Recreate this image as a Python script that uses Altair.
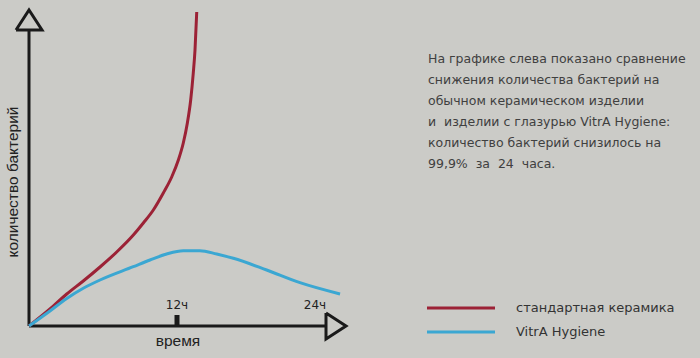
import altair as alt
import pandas as pd

# Data (x in hours, y in relative bacteria count units)
red_x = [0, 1.70, 3.06, 4.40, 5.76, 7.11, 8.46, 9.27, 10.08, 10.89, 11.57, 12.11, 12.51, 12.84, 13.11, 13.32, 13.46, 13.60]
red_y = [0, 17, 32, 45, 59, 74, 91, 103, 116, 133, 149, 166, 183, 203, 226, 253, 276, 314]
blue_x = [0, 1.70, 3.06, 4.40, 5.76, 8.46, 9.81, 11.16, 12.51, 13.86, 15.22, 16.57, 19.27, 21.97, 25.22]
blue_y = [0, 15, 27.5, 37.7, 46, 59.3, 66, 72, 75.3, 75.3, 72, 67.7, 56, 43.3, 32]
series_names = ["стандартная керамика", "VitrA Hygiene"]
colors = ["#9c2236", "#3ba7d2"]
tick_labels = ["12ч", "24ч"]
tick_hours = [12, 24]
paragraph = [
    "На графике слева показано сравнение",
    "снижения количества бактерий на",
    "обычном керамическом изделии",
    "и\u00a0 изделии с глазурью VitrA Hygiene:",
    "количество бактерий снизилось на",
    "99,9%\u00a0 за\u00a0 24\u00a0 часа.",
]

W, H = 700, 358
px_per_h = 148 / 12.0
x0_px, y0_px = 29, 326
xdom = [-x0_px / px_per_h, (W - x0_px) / px_per_h]
ydom = [y0_px - H, y0_px]

xs = alt.Scale(domain=xdom, nice=False, zero=False)
ys = alt.Scale(domain=ydom, nice=False, zero=False)

def hx(px):
    return (px - x0_px) / px_per_h

def vy(py):
    return y0_px - py

rows = []
for i, (x, y) in enumerate(zip(red_x, red_y)):
    rows.append({"s": series_names[0], "x": x, "y": y, "o": i})
for i, (x, y) in enumerate(zip(blue_x, blue_y)):
    rows.append({"s": series_names[1], "x": x, "y": y, "o": i})
df = pd.DataFrame(rows)

X = lambda f: alt.X(f, type="quantitative", scale=xs, axis=None)
Y = lambda f: alt.Y(f, type="quantitative", scale=ys, axis=None)

# axes lines
axes_df = pd.DataFrame([
    {"x": 0, "y": 0, "x2": 0, "y2": vy(30)},
    {"x": 0, "y": 0, "x2": hx(326), "y2": 0},
])
axes = alt.Chart(axes_df).mark_rule(color="#1a1a1a", strokeWidth=3).encode(
    x=X("x"), y=Y("y"), x2="x2", y2="y2")

# arrow heads
arrow_df = pd.DataFrame([
    {"a": "y", "o": 0, "x": hx(16), "y": vy(30)},
    {"a": "y", "o": 1, "x": 0, "y": vy(10)},
    {"a": "y", "o": 2, "x": hx(42), "y": vy(30)},
    {"a": "y", "o": 3, "x": hx(16), "y": vy(30)},
    {"a": "x", "o": 0, "x": hx(326), "y": vy(313)},
    {"a": "x", "o": 1, "x": hx(346), "y": 0},
    {"a": "x", "o": 2, "x": hx(326), "y": vy(339)},
    {"a": "x", "o": 3, "x": hx(326), "y": vy(313)},
])
arrows = alt.Chart(arrow_df).mark_line(color="#1a1a1a", strokeWidth=3, strokeJoin="miter").encode(
    x=X("x"), y=Y("y"), detail="a:N", order="o:Q")

curves = alt.Chart(df).mark_line(strokeWidth=3, interpolate="monotone").encode(
    x=X("x"), y=Y("y"), order="o:Q",
    color=alt.Color("s:N", scale=alt.Scale(domain=series_names, range=colors), legend=None))

tick_df = pd.DataFrame({"x": [12], "y": [0], "y2": [vy(315)]})
tick = alt.Chart(tick_df).mark_rule(color="#1a1a1a", strokeWidth=5).encode(
    x=X("x"), y=Y("y"), y2="y2")

tl_df = pd.DataFrame({"x": [12, hx(315)], "t": tick_labels})
tlabels = alt.Chart(tl_df).mark_text(fontSize=12, font="DejaVu Sans", color="#222",
                                     baseline="middle").encode(
    x=X("x"), y=alt.value(305), text="t:N")

xtitle = alt.Chart(pd.DataFrame({"t": ["время"]})).mark_text(
    fontSize=15.5, font="Liberation Sans", color="#222", baseline="middle").encode(
    x=alt.value(178), y=alt.value(341), text="t:N")
ytitle = alt.Chart(pd.DataFrame({"t": ["количество бактерий"]})).mark_text(
    fontSize=15.5, font="Liberation Sans", color="#222", baseline="middle", angle=270).encode(
    x=alt.value(13), y=alt.value(182), text="t:N")

py_scale = alt.Scale(domain=[0, H], range=[0, H])
para_df = pd.DataFrame({"t": paragraph, "i": list(range(len(paragraph)))})
para_df["py"] = 59 + para_df["i"] * 21
para = alt.Chart(para_df).mark_text(
    fontSize=12.5, font="DejaVu Sans", color="#404040", align="left", baseline="middle").encode(
    x=alt.value(428), y=alt.Y("py:Q", scale=py_scale, axis=None),
    text="t:N")

leg_df = pd.DataFrame({"s": series_names, "py": [308, 332]})
leg_lines = alt.Chart(leg_df).mark_rule(strokeWidth=3).encode(
    x=alt.value(427), x2=alt.value(495),
    y=alt.Y("py:Q", scale=py_scale, axis=None),
    color=alt.Color("s:N", scale=alt.Scale(domain=series_names, range=colors), legend=None))
leg_text = alt.Chart(leg_df).mark_text(
    fontSize=13, font="DejaVu Sans", color="#333", align="left", baseline="middle").encode(
    x=alt.value(516), y=alt.Y("py:Q", scale=py_scale, axis=None), text="s:N")

chart = alt.layer(
    axes, arrows, tick, curves, tlabels, xtitle, ytitle, para, leg_lines, leg_text
).resolve_scale(y="independent").properties(
    width=W, height=H, background="#cbcbc7", padding=0,
    autosize=alt.AutoSizeParams(type="none"),
).configure_view(stroke=None)

chart.save("out.html", embed_options={"renderer": "svg", "actions": False})
